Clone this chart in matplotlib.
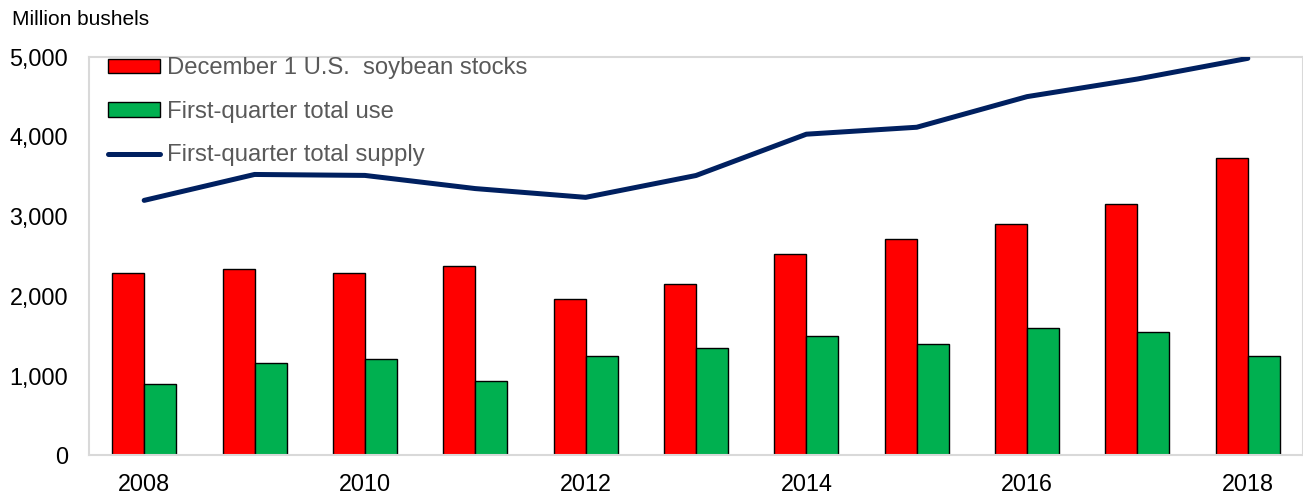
import matplotlib

matplotlib.use("Agg")

import matplotlib.pyplot as plt
import numpy as np

YEARS = [2008, 2009, 2010, 2011, 2012, 2013, 2014, 2015, 2016, 2017, 2018]
DEC1_STOCKS = [2287, 2342, 2287, 2376, 1966, 2150, 2525, 2709, 2896, 3155, 3731]
Q1_USE = [890, 1160, 1203, 937, 1245, 1348, 1494, 1402, 1594, 1548, 1244]
Q1_SUPPLY = [3198, 3523, 3511, 3346, 3236, 3510, 4028, 4115, 4499, 4720, 4979]
YTICKS = [0, 1000, 2000, 3000, 4000, 5000]

RED = "#FF0000"
GREEN = "#00B050"
NAVY = "#002060"
FRAME = "#D9D9D9"

plt.rcParams["font.family"] = ["Liberation Sans", "DejaVu Sans"]

fig = plt.figure(figsize=(13.03, 4.95), dpi=100, facecolor="white")
ax = fig.add_axes([0.0683, 0.080, 0.9317, 0.8055])

x = np.arange(len(YEARS))
w = 0.29
b1 = ax.bar(x - w / 2, DEC1_STOCKS, w, color=RED, edgecolor="black", linewidth=1.0,
            label="December 1 U.S.  soybean stocks", zorder=2)
b2 = ax.bar(x + w / 2, Q1_USE, w, color=GREEN, edgecolor="black", linewidth=1.0,
            label="First-quarter total use", zorder=2)
ln, = ax.plot(x, Q1_SUPPLY, color=NAVY, linewidth=3.6, solid_capstyle="round",
              solid_joinstyle="round", label="First-quarter total supply", zorder=3)

ax.set_xlim(-0.5, len(YEARS) - 0.5)
ax.set_ylim(0, 5000)
ax.set_yticks(YTICKS)
ax.set_yticklabels([f"{v:,}" for v in YTICKS])
even = [i for i, yr in enumerate(YEARS) if yr % 2 == 0]
ax.set_xticks(even)
ax.set_xticklabels([str(YEARS[i]) for i in even])
ax.tick_params(axis="both", length=0, labelsize=16.8, colors="black")
ax.tick_params(axis="y", pad=15)
ax.tick_params(axis="x", pad=13)

for sp in ax.spines.values():
    sp.set_color(FRAME)
    sp.set_linewidth(1.5)

fig.text(0.009, 0.96, "Million bushels", fontsize=15, ha="left", va="center")

leg = ax.legend([b1, b2, ln], [b1.get_label(), b2.get_label(), ln.get_label()],
                loc="upper left", bbox_to_anchor=(0.0157, 0.998), frameon=False,
                fontsize=17.2, handlelength=2.17, handleheight=0.58,
                handletextpad=0.3, labelspacing=0.9, borderaxespad=0, borderpad=0)
for t in leg.get_texts():
    t.set_color("#595959")

fig.savefig("out.png", dpi=100, facecolor="white")
